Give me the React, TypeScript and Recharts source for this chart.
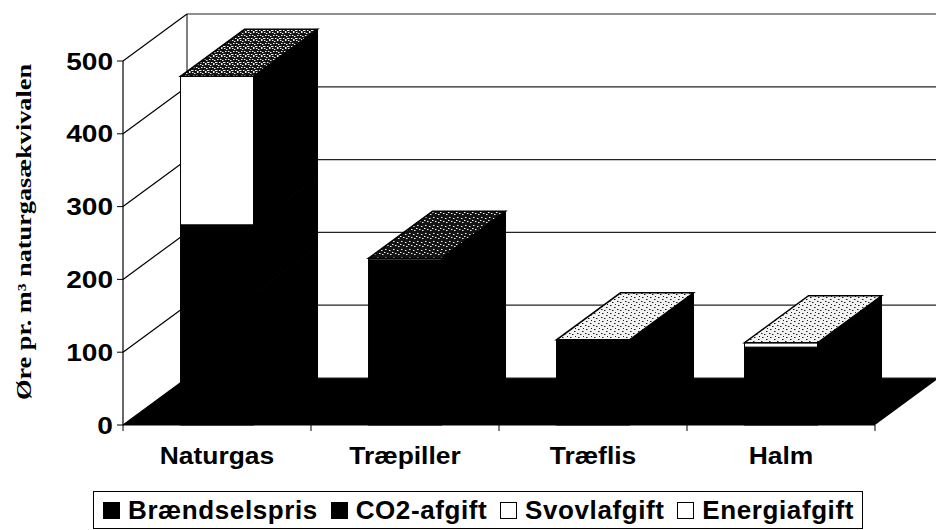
import React from 'react';
import { ComposedChart, Bar, XAxis, YAxis, CartesianGrid, Legend } from 'recharts';

// øre pr. m3 naturgasækvivalent
const categories = ['Naturgas', 'Træpiller', 'Træflis', 'Halm'];
const braendselspris = [180, 227, 117, 107];
const co2Afgift = [95, 0, 0, 0];
const svovlafgift = [0, 2, 0, 6];
const energiafgift = [204, 0, 0, 0];
const yTicks = [0, 100, 200, 300, 400, 500];

const series = [
  { key: 'braendsel', name: 'Brændselspris', fill: '#000000' },
  { key: 'co2', name: 'CO2-afgift', fill: '#000000' },
  { key: 'svovl', name: 'Svovlafgift', fill: '#ffffff' },
  { key: 'energi', name: 'Energiafgift', fill: '#ffffff' },
];

const data = categories.map((name, i) => ({
  name,
  braendsel: braendselspris[i],
  co2: co2Afgift[i],
  svovl: svovlafgift[i],
  energi: energiafgift[i],
}));

// 3D depth offset
const DX = 64;
const DY = 47;
const topShade = ['mid', 'dark', 'light', 'light'];
const sans = 'Liberation Sans, Arial, sans-serif';

const Speckle = ({ id, shade }: { id: string; shade: string }) => {
  const bg = shade === 'light' ? '#f2f2f2' : '#141414';
  const dot = shade === 'light' ? '#1a1a1a' : '#f0f0f0';
  const dots =
    shade === 'mid'
      ? [[0, 0], [2, 1], [5, 0], [1, 3], [4, 3], [6, 4], [3, 6], [7, 6], [0, 6], [5, 7]]
      : shade === 'dark'
      ? [[1, 1], [5, 2], [3, 5], [6, 6], [0, 4]]
      : [[2, 1], [6, 3], [1, 5], [4, 6], [7, 0]];
  return (
    <defs>
      <pattern id={id} width={8} height={8} patternUnits="userSpaceOnUse">
        <rect width={8} height={8} fill={bg} />
        {dots.map(([dx, dy], k) => (
          <rect key={k} x={dx} y={dy} width={1.5} height={1} fill={dot} />
        ))}
      </pattern>
    </defs>
  );
};

const makeShape = (seriesIdx: number, fill: string) => (p: any) => {
  const { x, y, width: w, height: h, index } = p;
  if (!h || h <= 0) return <g />;
  const row: any = data[index];
  let topIdx = -1;
  series.forEach((s, i) => {
    if (row[s.key] > 0) topIdx = i;
  });
  const isTop = topIdx === seriesIdx;
  const pid = `speck-${index}`;
  return (
    <g>
      <rect x={x} y={y} width={w} height={h} fill={fill} stroke="#000" strokeWidth={1} />
      <polygon
        points={`${x + w},${y} ${x + w + DX},${y - DY} ${x + w + DX},${y + h - DY} ${x + w},${y + h}`}
        fill="#000"
        stroke="#000"
      />
      {isTop && (
        <>
          <Speckle id={pid} shade={topShade[index]} />
          <polygon
            points={`${x},${y} ${x + w},${y} ${x + w + DX},${y - DY} ${x + DX},${y - DY}`}
            fill={`url(#${pid})`}
            stroke="#000"
            strokeWidth={1.5}
          />
        </>
      )}
    </g>
  );
};

const renderGridLine = (p: any) => {
  const { x1, y1, x2, key } = p;
  const isFloor = Math.abs(y1 - (p.y + p.height)) < 1;
  return (
    <g key={key}>
      {isFloor && (
        <>
          <polygon
            points={`${x1},${y1} ${x2},${y1} ${x2 + DX},${y1 - DY} ${x1 + DX},${y1 - DY}`}
            fill="#000"
          />
          <line x1={x1 + DX} y1={p.y - DY} x2={x1 + DX} y2={y1 - DY} stroke="#000" strokeWidth={1} />
        </>
      )}
      <line x1={x1} y1={y1} x2={x1 + DX} y2={y1 - DY} stroke="#000" strokeWidth={1.2} />
      <line x1={x1 + DX} y1={y1 - DY} x2={x2 + DX} y2={y1 - DY} stroke="#222" strokeWidth={1.2} />
    </g>
  );
};

const XTick = (p: any) => {
  const { x, y, payload, index } = p;
  const half = payload?.offset ?? 0;
  const ty = y + 39;
  return (
    <g>
      {index === 0 && <line x1={x - half} y1={y} x2={x - half} y2={y + 6} stroke="#000" />}
      <line x1={x + half} y1={y} x2={x + half} y2={y + 6} stroke="#000" />
      <text
        x={x}
        y={ty}
        transform={`translate(${x} ${ty}) scale(1.1 1) translate(${-x} ${-ty})`}
        textAnchor="middle"
        fontFamily={sans}
        fontWeight="bold"
        fontSize={24}
        fill="#000"
      >
        {payload.value}
      </text>
    </g>
  );
};

const YTick = (p: any) => {
  const { x, y, payload } = p;
  return (
    <text
      x={x}
      y={y}
      dy="0.36em"
      transform={`translate(${x} ${y}) scale(1.17 1) translate(${-x} ${-y})`}
      textAnchor="end"
      fontFamily={sans}
      fontWeight="bold"
      fontSize={24}
      fill="#000"
    >
      {payload.value}
    </text>
  );
};

const YLabel = (p: any) => {
  const vb = p.viewBox || { x: 63, y: 61, width: 60, height: 364 };
  const cx = vb.x - 39;
  const cy = vb.y + vb.height / 2 - 11;
  return (
    <text
      x={cx}
      y={cy}
      transform={`rotate(-90 ${cx} ${cy})`}
      textAnchor="middle"
      dominantBaseline="central"
      fontFamily="Liberation Serif, Times New Roman, serif"
      fontWeight="bold"
      fontSize={20}
      textLength={336}
      lengthAdjust="spacingAndGlyphs"
      fill="#000"
    >
      Øre pr. m³ naturgasækvivalen
    </text>
  );
};

const LegendBox = () => (
  <div
    style={{
      boxSizing: 'border-box',
      width: 770,
      height: 38,
      border: '1.5px solid #000',
      display: 'flex',
      alignItems: 'center',
      justifyContent: 'space-between',
      padding: '0 8px 0 9px',
      fontFamily: sans,
      fontWeight: 'bold',
      fontSize: 26,
      letterSpacing: 0.6,
      lineHeight: '34px',
      color: '#000',
      whiteSpace: 'nowrap',
      background: '#fff',
    }}
  >
    {series.map((s) => (
      <span key={s.key} style={{ display: 'flex', alignItems: 'center' }}>
        <span
          style={{
            display: 'inline-block',
            boxSizing: 'border-box',
            width: 17,
            height: 17,
            background: s.fill,
            border: '1.5px solid #000',
            marginRight: 8,
          }}
        />
        {s.name}
      </span>
    ))}
  </div>
);

export default function App() {
  return (
    <div style={{ position: 'absolute', left: 0, top: 0, background: '#fff' }}>
      <ComposedChart
        width={936}
        height={530}
        data={data}
        margin={{ top: 61, right: 61, left: 63, bottom: 1 }}
        barCategoryGap="30.6%"
      >
        <CartesianGrid vertical={false} horizontal={renderGridLine} />
        <XAxis
          dataKey="name"
          height={66}
          axisLine={{ stroke: '#000', strokeWidth: 1 }}
          tickLine={false}
          tickSize={0}
          tickMargin={0}
          tick={<XTick />}
          interval={0}
        />
        <YAxis
          type="number"
          domain={[0, 500]}
          ticks={yTicks}
          width={60}
          axisLine={{ stroke: '#000', strokeWidth: 1.2 }}
          tickLine={{ stroke: '#000' }}
          tickSize={6}
          tickMargin={4}
          tick={<YTick />}
          label={YLabel}
        />
        <Legend
          verticalAlign="bottom"
          content={<LegendBox />}
          wrapperStyle={{ left: 93, width: 'auto' }}
        />
        {series.map((s, i) => (
          <Bar
            key={s.key}
            dataKey={s.key}
            name={s.name}
            stackId="a"
            fill={s.fill}
            shape={makeShape(i, s.fill)}
            isAnimationActive={false}
          />
        ))}
      </ComposedChart>
    </div>
  );
}
